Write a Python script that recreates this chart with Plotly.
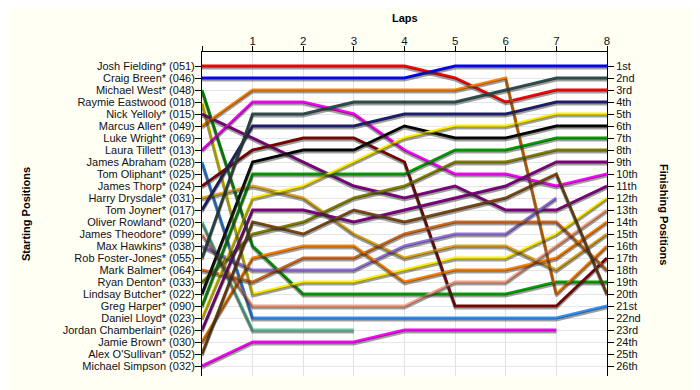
import plotly.graph_objects as go

laps = [0, 1, 2, 3, 4, 5, 6, 7, 8]
lap_labels = ["", "1", "2", "3", "4", "5", "6", "7", "8"]

drivers = [
    "Josh Fielding* (051)", "Craig Breen* (046)", "Michael West* (048)", "Raymie Eastwood (018)",
    "Nick Yelloly* (015)", "Marcus Allen* (049)", "Luke Wright* (069)", "Laura Tillett* (013)",
    "James Abraham (028)", "Tom Oliphant* (025)", "James Thorp* (024)", "Harry Drysdale* (031)",
    "Tom Joyner* (017)", "Oliver Rowland* (020)", "James Theodore* (099)", "Max Hawkins* (038)",
    "Rob Foster-Jones* (055)", "Mark Balmer* (064)", "Ryan Denton* (033)", "Lindsay Butcher* (022)",
    "Greg Harper* (090)", "Daniel Lloyd* (023)", "Jordan Chamberlain* (026)", "Jamie Brown* (030)",
    "Alex O'Sullivan* (052)", "Michael Simpson (032)",
]

finish_labels = ["1st", "2nd", "3rd", "4th", "5th", "6th", "7th", "8th", "9th", "10th",
                 "11th", "12th", "13th", "14th", "15th", "16th", "17th", "18th", "19th", "20th",
                 "21st", "22nd", "23rd", "24th", "25th", "26th"]

N = None
josh_fielding = [1, 1, 1, 1, 1, 2, 4, 3, 3]
craig_breen = [2, 2, 2, 2, 2, 1, 1, 1, 1]
michael_west = [3, 16, 20, 20, 20, 20, 20, 19, 19]
raymie_eastwood = [4, 20, 19, 19, 18, 17, 17, 15, 12]
nick_yelloly = [5, 7, 9, 11, 12, 11, 13, 13, 11]
marcus_allen = [6, 3, 3, 3, 3, 3, 2, 20, 16]
luke_wright = [N, N, N, N, N, N, N, N, N]
laura_tillett = [8, 4, 4, 5, 8, 10, 10, 11, 10]
james_abraham = [9, 22, 22, 22, 22, 22, 22, 22, 21]
tom_oliphant = [N, N, N, N, N, N, N, N, N]
james_thorp = [11, 8, 7, 7, 9, 21, 21, 21, 17]
harry_drysdale = [12, 11, 12, 15, 17, 16, 16, 18, 15]
tom_joyner = [13, 6, 6, 6, 5, 5, 5, 4, 4]
oliver_rowland = [14, 23, 23, 23, N, N, N, N, N]
james_theodore = [15, 21, 21, 21, 21, 19, 19, 16, 13]
max_hawkins = [16, 18, 18, 18, 16, 15, 15, 12, N]
rob_foster_jones = [17, 5, 5, 4, 4, 4, 3, 2, 2]
mark_balmer = [18, 19, 17, 17, 15, 14, 14, 14, 18]
ryan_denton = [19, 15, 14, 12, 11, 9, 9, 8, 8]
lindsay_butcher = [20, 9, 8, 8, 6, 7, 7, 6, 6]
greg_harper = [21, 10, 10, 10, 10, 8, 8, 7, 7]
daniel_lloyd = [22, 12, 11, 9, 7, 6, 6, 5, 5]
jordan_chamberlain = [23, 13, 13, 14, 13, 12, 11, 9, 9]
jamie_brown = [24, 17, 16, 16, 19, 18, 18, 17, 14]
alex_osullivan = [25, 14, 15, 13, 14, 13, 12, 10, 20]
michael_simpson = [26, 24, 24, 24, 23, 23, 23, 23, N]

positions = [
    josh_fielding, craig_breen, michael_west, raymie_eastwood, nick_yelloly, marcus_allen,
    luke_wright, laura_tillett, james_abraham, tom_oliphant, james_thorp, harry_drysdale,
    tom_joyner, oliver_rowland, james_theodore, max_hawkins, rob_foster_jones, mark_balmer,
    ryan_denton, lindsay_butcher, greg_harper, daniel_lloyd, jordan_chamberlain, jamie_brown,
    alex_osullivan, michael_simpson,
]

colors = [
    "#FF0000", "#0000FF", "#00A000", "#FFEE00", "#800080", "#FF8000", "#808080", "#FF00FF",
    "#2F8FFF", "#808080", "#800000", "#DAA520", "#1C1C70", "#66C8A0", "#F8A080", "#9370DB",
    "#2F4F4F", "#D2691E", "#808000", "#000000", "#00A000", "#FFEE00", "#800080", "#FF8000",
    "#7B4A12", "#FF00FF",
]

fig = go.Figure()

# drop shadows (drawn on a hidden axis shifted by ~2px)
for name, pos in zip(drivers, positions):
    if all(p is None for p in pos):
        continue
    fig.add_trace(go.Scatter(x=laps, y=pos, mode="lines", yaxis="y3",
                             line=dict(color="rgba(40,40,40,0.45)", width=3),
                             hoverinfo="skip", showlegend=False))

for name, pos, col in zip(drivers, positions, colors):
    if all(p is None for p in pos):
        continue
    fig.add_trace(go.Scatter(x=laps, y=pos, mode="lines", name=name,
                             line=dict(color=col, width=3), showlegend=False))

# invisible trace to activate right axis
fig.add_trace(go.Scatter(x=[0], y=[1], yaxis="y2", mode="markers",
                         marker=dict(opacity=0), hoverinfo="skip", showlegend=False))

ytop, ybot = -1 / 6, 26 + 10 / 12
shift = 2 / 12
font = dict(family="Liberation Sans, Arial, sans-serif", size=11, color="#101020")

fig.update_layout(
    width=692, height=382,
    margin=dict(l=194, r=93, t=44, b=14, autoexpand=False),
    paper_bgcolor="#FFFFF4",
    plot_bgcolor="#FFFFFF",
    font=font,
    xaxis=dict(side="top", range=[0, 8], tickmode="array", tickvals=laps, ticktext=lap_labels,
               ticks="outside", ticklen=5, tickcolor="black", showline=True, linecolor="black",
               linewidth=1, showgrid=True, gridcolor="#E2E2E2", zeroline=False,
               ticklabelstandoff=-4, tickfont=dict(size=11.5)),
    yaxis=dict(range=[ybot, ytop], tickmode="array", tickvals=list(range(1, 27)), ticktext=drivers,
               ticks="outside", ticklen=6, tickcolor="black", showline=True, linecolor="black",
               linewidth=1, showgrid=True, gridcolor="#E6E6E6", zeroline=False,
               ticklabelstandoff=-2),
    yaxis2=dict(range=[ybot, ytop], overlaying="y", side="right", tickmode="array",
                tickvals=list(range(1, 27)), ticktext=finish_labels, ticks="outside", ticklen=6,
                tickcolor="black", showline=True, linecolor="black", linewidth=1,
                showgrid=False, zeroline=False),
    yaxis3=dict(range=[ybot - shift, ytop - shift], overlaying="y", visible=False),
    annotations=[
        dict(text="<b>Laps</b>", xref="paper", yref="paper", x=0.5, y=1, yshift=34,
             xanchor="center", yanchor="middle",
             showarrow=False, font=dict(size=11, color="black")),
        dict(text="<b>Starting Positions</b>", xref="paper", yref="paper", x=0, xshift=-176,
             y=0.5, xanchor="center", yanchor="middle", textangle=-90, showarrow=False,
             font=dict(size=11, color="black")),
        dict(text="<b>Finishing Positions</b>", xref="paper", yref="paper", x=1, xshift=57,
             y=0.5, xanchor="center", yanchor="middle", textangle=90, showarrow=False,
             font=dict(size=11, color="black")),
    ],
)

fig.write_html("out.html")
